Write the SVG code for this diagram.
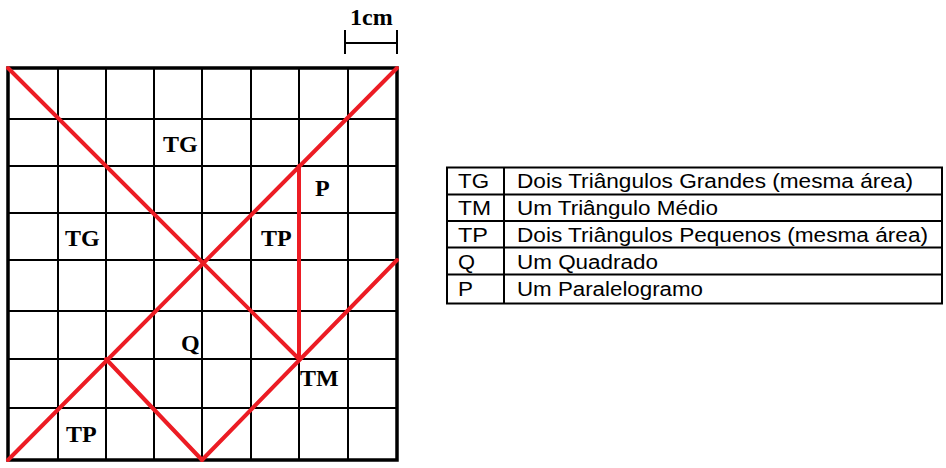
<svg xmlns="http://www.w3.org/2000/svg" width="946" height="468" viewBox="0 0 946 468">
<style>
.bg{fill:#ffffff}
.gin{stroke:#000;stroke-width:2;fill:none}
.gout{stroke:#000;stroke-width:3.5;fill:none}
.red{stroke:#ec1c24;stroke-width:4;stroke-linecap:round;fill:none}
.lbl{font-family:"Liberation Serif","Times New Roman",serif;font-weight:bold;font-size:24px;fill:#000}
.tb{stroke:#000;stroke-width:2;fill:none}
.tt{font-family:"Liberation Sans",Arial,sans-serif;font-size:20px;fill:#000}
.sc{stroke:#000;stroke-width:2;fill:none}
</style>
<rect class="bg" x="0" y="0" width="946" height="468"/>
<g id="scale">
<text class="lbl" x="350" y="25">1cm</text>
<path class="sc" d="M345 43H397M345 30V54M397 30V54"/>
</g>
<g id="grid">
<path class="gin" d="M58 68V460M106 68V460M154 68V460M202 68V460M251 68V460M299 68V460M348 68V460M8 119H397M8 166H397M8 213H397M8 260H397M8 311H397M8 359H397M8 408H397"/>
<rect class="gout" x="8" y="68" width="389" height="392"/>
</g>
<g id="connectors">
<line class="red" x1="8" y1="68" x2="299" y2="359"/>
<line class="red" x1="397" y1="68" x2="8" y2="460"/>
<line class="red" x1="299" y1="166" x2="299" y2="359"/>
<line class="red" x1="397" y1="260" x2="202" y2="460"/>
<line class="red" x1="106" y1="359" x2="202" y2="460"/>
</g>
<g id="label-tg-top"><text class="lbl" x="163" y="152">TG</text></g>
<g id="label-tg-left"><text class="lbl" x="65" y="246">TG</text></g>
<g id="label-p"><text class="lbl" x="315" y="196">P</text></g>
<g id="label-tp-mid"><text class="lbl" x="261" y="246">TP</text></g>
<g id="label-q"><text class="lbl" x="181" y="351">Q</text></g>
<g id="label-tm"><text class="lbl" x="300" y="386">TM</text></g>
<g id="label-tp-bottom"><text class="lbl" x="66" y="442">TP</text></g>
<g id="legend">
<rect class="tb" x="447" y="167.5" width="495" height="136"/>
<path class="tb" d="M504 167.5V303.5M447 194.5H942M447 221H942M447 247.5H942M447 274.5H942"/>
<text class="tt" x="458" y="188" textLength="31" lengthAdjust="spacingAndGlyphs">TG</text>
<text class="tt" x="517" y="188" textLength="396" lengthAdjust="spacingAndGlyphs">Dois Triângulos Grandes (mesma área)</text>
<text class="tt" x="458" y="215" textLength="33" lengthAdjust="spacingAndGlyphs">TM</text>
<text class="tt" x="517" y="215" textLength="201" lengthAdjust="spacingAndGlyphs">Um Triângulo Médio</text>
<text class="tt" x="458" y="242" textLength="30" lengthAdjust="spacingAndGlyphs">TP</text>
<text class="tt" x="517" y="242" textLength="411" lengthAdjust="spacingAndGlyphs">Dois Triângulos Pequenos (mesma área)</text>
<text class="tt" x="458" y="268.5" textLength="17" lengthAdjust="spacingAndGlyphs">Q</text>
<text class="tt" x="517" y="268.5" textLength="141" lengthAdjust="spacingAndGlyphs">Um Quadrado</text>
<text class="tt" x="458" y="296" textLength="15" lengthAdjust="spacingAndGlyphs">P</text>
<text class="tt" x="517" y="296" textLength="186" lengthAdjust="spacingAndGlyphs">Um Paralelogramo</text>
</g>
</svg>
